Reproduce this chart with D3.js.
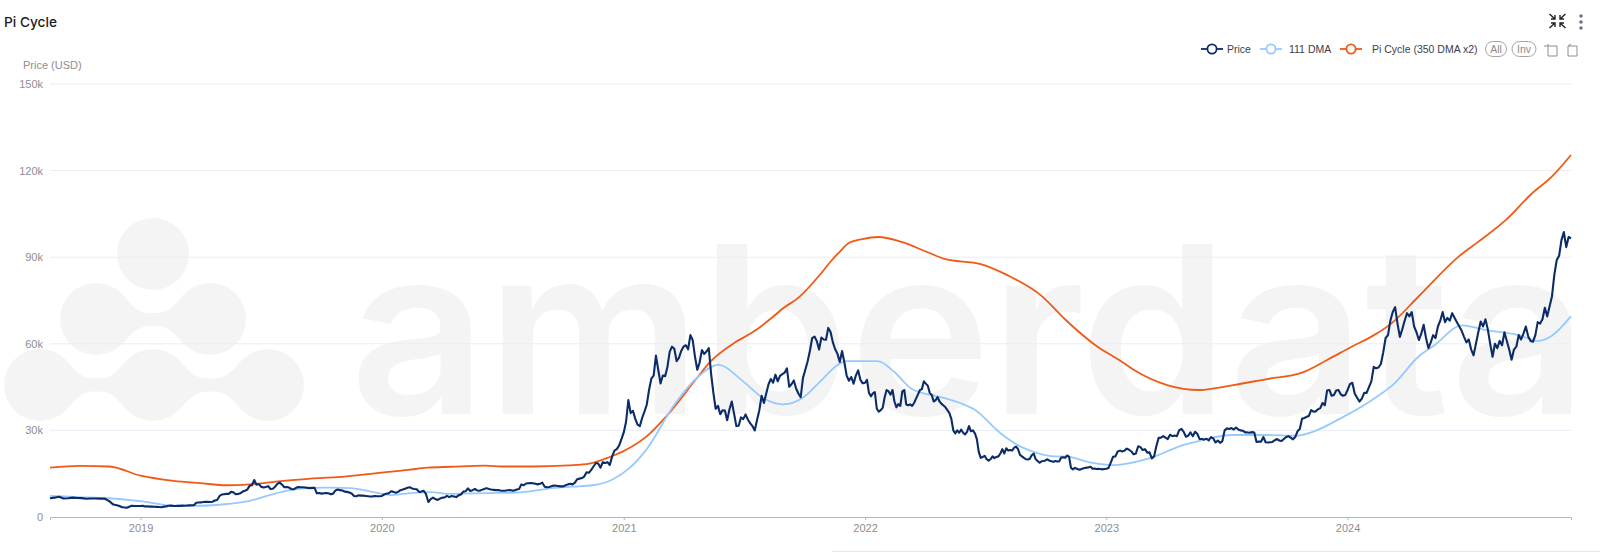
<!DOCTYPE html>
<html><head><meta charset="utf-8">
<script src="https://cdn.jsdelivr.net/npm/d3@7"></script>
<style>
html,body{margin:0;padding:0;background:#fff;overflow:hidden}
svg{display:block}
text{font-family:"Liberation Sans",Arial,sans-serif}
</style></head><body><div id="chart"></div>
<script>
const title = "Pi Cycle";
const yTitle = "Price (USD)";
const yTicks = [0,30000,60000,90000,120000,150000];
const xYears = [2019,2020,2021,2022,2023,2024];
const startDate = "2018-08-17", endDate = "2024-12-04";

const price2018 = [6500,6700,7000,6400,6500,6700,6600,6550,6300,6400,6400,6350,6400,5600,4300,4000,3400,3200,3900,3800];
const price2019 = [3800,3850,3650,3700,3600,3580,3550,3500,3450,3400,3600,3620,3900,3950,3850,3800,3900,3850,3950,3900,4000,4030,4050,4100,4950,5000,5050,5200,5300,5250,5200,5300,5700,5900,7200,7800,7900,8000,8000,8700,8600,7900,8000,8200,8800,9100,9500,10800,11000,12800,11200,11400,10500,10200,10400,10700,9700,9800,10500,11500,11900,11200,10300,10400,10200,9700,9600,10100,10400,10300,10300,10200,10100,10000,10100,10100,8200,8300,8100,8200,8300,8200,7900,8100,9200,9500,9300,9200,8800,8700,8500,8100,7300,7200,7500,7400,7400,7300,7200,7100,7150,7300,7200,7200];
const price2020 = [7300,7800,8100,8200,8900,8700,8400,8700,9300,9500,9800,10100,10300,9900,9700,9600,8700,8800,9100,7900,5200,6200,6700,6200,5900,6400,6700,6800,7300,6900,7300,7100,6900,7500,7800,8800,8900,9900,9000,9300,9700,9200,9100,9400,9700,10000,9700,9500,9400,9300,9300,9150,9100,9100,9250,9300,9150,9200,9550,9700,11300,11000,11600,11700,11800,11700,11500,11300,11500,11900,10500,10300,10400,10700,10900,10800,10700,10600,10600,11000,11300,11500,11300,11900,13100,13300,13500,14000,15500,15300,16300,17500,18700,18500,17100,19000,18700,19000,18000,21000,23000,23500,24700,27000];
const price2021 = [29300,33000,40500,36000,36800,34000,32000,31500,34300,36500,38900,44000,47900,49000,55900,51000,46300,49000,48800,52000,57300,59000,58300,54000,55100,57500,59000,59500,58100,63000,61300,55500,51000,53500,57800,56500,57300,58500,49700,43000,37500,38500,35600,37000,36900,33500,37300,40000,35800,31500,31600,34500,33900,35500,33800,32500,31500,30000,33600,37000,42000,39500,42800,46000,47800,46500,49300,47000,48900,49500,50000,51500,45100,46000,47300,44500,42800,41500,48200,51000,53900,57500,62000,62500,61000,58000,62200,61500,61400,65500,64100,60500,58100,56500,53700,57500,53600,49000,47200,48500,46200,49000,50800,47500,46300];
const price2022 = [46500,47500,43000,41800,42800,43300,37500,36500,37000,37800,41500,44000,43500,42400,44000,40000,38000,39100,38500,43500,44000,39000,38700,39000,38500,39500,41000,42500,44000,44300,47000,46200,45500,43000,42300,40000,40500,41500,40000,39200,38600,38000,37000,36000,34000,30000,29000,30000,29200,30300,29200,28600,29500,31500,29700,30000,29000,27000,22500,20500,20800,21200,20000,19500,20000,21000,20400,20800,21000,22000,23500,22000,23800,23000,23200,23000,24000,24400,23500,21500,21000,20500,20000,19900,20200,21400,22000,20000,19400,18800,19300,19400,19600,20000,19500,19300,19100,19400,19200,19300,20600,20700,20500,21300,20900,17000,16500,17000,16700,16400,16500,16800,17000,17100,17200,17400,16700,16800,16600,16700,16600,16500,16600];
const price2023 = [16700,17000,18900,20900,21000,22700,23000,22700,23000,23700,23300,22700,21700,22000,24500,24200,23200,23500,22300,22400,20300,21000,24600,27400,27500,28000,27500,27000,28500,28000,28200,28000,30000,30500,29500,27800,28200,29300,28000,29500,28800,27000,27000,26800,27100,26500,27700,27200,25800,26500,25700,26300,30000,30700,30500,30800,30300,31000,30300,30000,29900,29300,29300,29200,29400,29300,26000,26100,26100,27700,25900,25800,25900,26000,26600,27000,26500,26300,27000,27700,28000,27500,26900,27700,29700,30500,34000,34300,34700,35000,37000,36500,36600,37300,37700,39500,38700,43800,44000,42000,42300,43800,44000,42500,42000,42300];
const price2024 = [44000,46000,46500,42800,41300,40000,41000,43000,43000,45000,47000,52000,51500,51800,53000,57000,62000,63000,68000,71000,72700,67000,62400,65000,68000,70600,69500,71000,66000,64000,61300,63500,66600,62000,58500,60500,63000,62000,66000,68000,71000,67500,69000,68000,70600,69000,67500,66000,64500,62400,60500,61500,58000,56000,60000,64000,67700,66000,68500,65000,60000,55500,60000,58500,61000,59500,64000,61000,58000,54500,58000,59000,63000,61500,63500,66000,62500,61000,60700,63000,67500,67000,68500,72500,69500,73000,76500,84000,89000,90500,96000,98700,93500,97000,96500];
const priceYears = [
 [startDate,"2019-01-01",price2018],["2019-01-01","2020-01-01",price2019],["2020-01-01","2021-01-01",price2020],
 ["2021-01-01","2022-01-01",price2021],["2022-01-01","2023-01-01",price2022],["2023-01-01","2024-01-01",price2023],
 ["2024-01-01",endDate,price2024]];

const dmaDates = ["2018-08-17","2018-10-01","2018-11-15","2019-01-01","2019-02-20","2019-04-01","2019-05-12","2019-06-15","2019-07-15","2019-08-15","2019-09-15","2019-10-15","2019-11-15","2019-12-15","2020-01-15","2020-02-15","2020-03-15","2020-04-15","2020-05-15","2020-06-15","2020-07-15","2020-08-15","2020-09-15","2020-10-15","2020-11-15","2020-12-15","2021-01-10","2021-02-03","2021-03-20","2021-04-23","2021-05-24","2021-07-01","2021-07-31","2021-08-30","2021-09-29","2021-10-25","2021-11-20","2021-12-04","2022-01-20","2022-02-14","2022-03-11","2022-04-06","2022-04-30","2022-05-26","2022-06-15","2022-07-25","2022-08-20","2022-09-13","2022-10-09","2022-11-03","2022-12-09","2023-01-12","2023-03-08","2023-04-27","2023-05-22","2023-07-11","2023-08-31","2023-10-16","2023-11-15","2023-12-20","2024-02-10","2024-03-12","2024-04-17","2024-05-12","2024-06-22","2024-07-27","2024-09-16","2024-10-15","2024-11-05","2024-12-04"];
const dmaValues = [7300,6900,6500,5500,3900,3900,4500,5600,7600,9300,10100,10200,10000,8800,7600,8300,8600,8000,8200,8300,8400,9000,10000,10500,11000,13000,17000,23000,39400,48500,52700,46900,41200,39000,41300,46900,52600,54000,54000,50300,44600,42500,41300,39400,37300,29000,24900,22600,21100,20900,18800,18000,20400,24900,26400,28400,28400,28200,30000,34000,41000,46300,55500,59600,66400,64800,63000,61000,62800,69600];

const piDates = ["2018-08-17","2018-10-01","2018-11-15","2019-01-01","2019-02-20","2019-04-01","2019-05-12","2019-06-15","2019-08-05","2019-09-15","2019-10-25","2020-01-01","2020-02-10","2020-03-10","2020-04-15","2020-06-05","2020-07-01","2020-08-15","2020-10-10","2020-11-10","2020-12-10","2021-01-04","2021-02-05","2021-03-08","2021-04-23","2021-05-12","2021-06-17","2021-07-13","2021-08-13","2021-08-30","2021-09-22","2021-10-25","2021-11-10","2021-11-22","2021-12-08","2021-12-28","2022-01-21","2022-02-25","2022-04-05","2022-05-01","2022-06-25","2022-08-05","2022-09-25","2022-10-30","2022-12-15","2023-01-25","2023-02-12","2023-04-03","2023-05-22","2023-07-12","2023-09-01","2023-10-23","2023-12-01","2024-01-07","2024-02-10","2024-03-07","2024-04-17","2024-06-17","2024-07-17","2024-08-28","2024-10-05","2024-11-05","2024-12-04"];
const piValues = [17100,17700,17500,14300,12500,11700,11000,11300,12500,13300,13800,15400,16300,17100,17400,17800,17500,17500,17900,18500,20700,23200,28000,35300,48500,53800,60300,63700,69000,72300,75900,84000,88500,91500,95000,96300,97000,95300,91800,89400,87600,83700,76600,68600,59600,53700,50900,45700,44000,45700,47800,49900,54400,59000,63000,67000,76300,90200,95400,103000,111900,117900,125400];

const legendItems = [["Price","#0b2c66",1212,1227],["111 DMA","#97c9ff",1271,1289],["Pi Cycle (350 DMA x2)","#f15a16",1351,1372]];
const P = d3.timeParse("%Y-%m-%d");
const W=1600,H=552;
const x = d3.scaleTime().domain([P(startDate),P(endDate)]).range([50,1571]);
const y = d3.scaleLinear().domain([0,150000]).range([517,84]);
const svg = d3.select("#chart").append("svg").attr("width",W).attr("height",H).attr("viewBox",[0,0,W,H]);

// watermark
const wm = svg.append("g").attr("fill","#f4f4f5");
[[153,254],[96,319],[210,319],[40,385],[153,385],[268,385]].forEach(c=>wm.append("circle").attr("cx",c[0]).attr("cy",c[1]).attr("r",36));
function neck(x1,x2,cy,h){const xm=(x1+x2)/2;const q=d3.path();
 q.moveTo(x1+25,cy-26);q.bezierCurveTo(x1+38,cy-12,xm-16,cy-h,xm,cy-h);q.bezierCurveTo(xm+16,cy-h,x2-38,cy-12,x2-25,cy-26);
 q.lineTo(x2-25,cy+26);q.bezierCurveTo(x2-38,cy+12,xm+16,cy+h,xm,cy+h);q.bezierCurveTo(xm-16,cy+h,x1+38,cy+12,x1+25,cy+26);q.closePath();return q.toString();}
[[96,210,319.5],[40,153,385],[153,268,385]].forEach(n=>wm.append("path").attr("d",neck(n[0],n[1],n[2],6.5)));
wm.append("text").attr("x",350).attr("y",414).attr("font-size",234).attr("font-weight",600).style("font-family","Inter,sans-serif")
  .attr("textLength",1237).attr("lengthAdjust","spacingAndGlyphs").text("amberdata");

// grid
const gGrid = svg.append("g");
gGrid.selectAll("line").data(yTicks.filter(d=>d>0)).join("line")
 .attr("x1",50).attr("x2",1571).attr("y1",d=>y(d)).attr("y2",d=>y(d)).attr("stroke","#e9edf7").attr("stroke-width",1);

// axes
const yAxis = svg.append("g").attr("transform","translate(50,0)")
 .call(d3.axisLeft(y).tickValues(yTicks).tickSize(0).tickPadding(7).tickFormat(d=>d===0?"0":d/1000+"k"));
yAxis.select(".domain").remove();
yAxis.selectAll("text").attr("fill","#8e8e8e").attr("font-size",11).style("font-family",'"Liberation Sans",sans-serif');
const xAxis = svg.append("g").attr("transform","translate(0,517)")
 .call(d3.axisBottom(x).tickValues(xYears.map(v=>new Date(v,0,1))).tickSize(3).tickPadding(4).tickFormat(d3.timeFormat("%Y")));
xAxis.select(".domain").attr("stroke","#b5b5b5").attr("stroke-width",1);
xAxis.selectAll(".tick line").attr("stroke","#b5b5b5");
xAxis.selectAll("text").attr("fill","#8e8e8e").attr("font-size",11).style("font-family",'"Liberation Sans",sans-serif');

// series
const line = d3.line().x(d=>x(d[0])).y(d=>y(d[1]));
const dma = dmaDates.map((d,i)=>[P(d),dmaValues[i]]);
const pi = piDates.map((d,i)=>[P(d),piValues[i]]);
const priceData = priceYears.flatMap(([a,b,vals])=>{const A=+P(a),B=+P(b);
  const n = b===endDate?vals.length-1:vals.length;
  return vals.map((v,i)=>[new Date(A+(B-A)*i/n),v]);});
svg.append("path").attr("d",line.curve(d3.curveMonotoneX)(pi)).attr("fill","none").attr("stroke","#f15a16").attr("stroke-width",1.8);
svg.append("path").attr("d",line.curve(d3.curveMonotoneX)(dma)).attr("fill","none").attr("stroke","#97c9ff").attr("stroke-width",1.8);
svg.append("path").attr("d",line.curve(d3.curveLinear)(priceData)).attr("fill","none").attr("stroke","#0b2c66").attr("stroke-width",2.1).attr("stroke-linejoin","round");

// title + labels
svg.append("text").attr("x",4).attr("y",27).attr("font-size",13.7).attr("font-weight",500).attr("fill","#1c1c22").style("font-family","Inter,sans-serif").text(title);
svg.append("text").attr("x",23).attr("y",69).attr("font-size",11).attr("fill","#8e8e8e").text(yTitle);

// legend
const lg = svg.append("g");
legendItems.forEach(([t,c,cx,tx])=>{
 lg.append("line").attr("x1",cx-11).attr("x2",cx+11).attr("y1",49).attr("y2",49).attr("stroke",c).attr("stroke-width",1.8);
 lg.append("circle").attr("cx",cx).attr("cy",49).attr("r",4.6).attr("fill","#fff").attr("stroke",c).attr("stroke-width",1.8);
 lg.append("text").attr("x",tx).attr("y",52.5).attr("font-size",10.5).attr("fill","#3b3e48").text(t);
});
[["All",1496,21],["Inv",1524,24]].forEach(([t,cx,w])=>{
 lg.append("rect").attr("x",cx-w/2).attr("y",41.5).attr("width",w).attr("height",15).attr("rx",7.5).attr("fill","#fff").attr("stroke","#8e8e8e").attr("stroke-width",.8);
 lg.append("text").attr("x",cx).attr("y",52.5).attr("text-anchor","middle").attr("font-size",10.5).attr("fill","#8a8a8a").text(t);
});
// toolbar icons
const ic = svg.append("g").attr("fill","none").attr("stroke","#8e8e8e").attr("stroke-width",1);
ic.append("path").attr("d","M1544,46 H1557 V56 H1548 V44");
ic.append("path").attr("d","M1571,44 L1568,46 H1577 V56 H1568 V46");
const ci = svg.append("g").attr("stroke","#222").attr("stroke-width",1.4).attr("fill","none");
["M1549.5,14 L1555,19 M1551,19 H1555 V15","M1565.5,14 L1560,19 M1564,19 H1560 V15","M1549.5,28 L1555,23 M1551,23 H1555 V27","M1565.5,28 L1560,23 M1564,23 H1560 V27"].forEach(d=>ci.append("path").attr("d",d));
[16,22,28].forEach(cy=>svg.append("circle").attr("cx",1581).attr("cy",cy).attr("r",1.8).attr("fill","#6f7680"));
svg.append("line").attr("x1",832).attr("x2",1600).attr("y1",551.5).attr("y2",551.5).attr("stroke","#e6e6e6");
</script></body></html>
